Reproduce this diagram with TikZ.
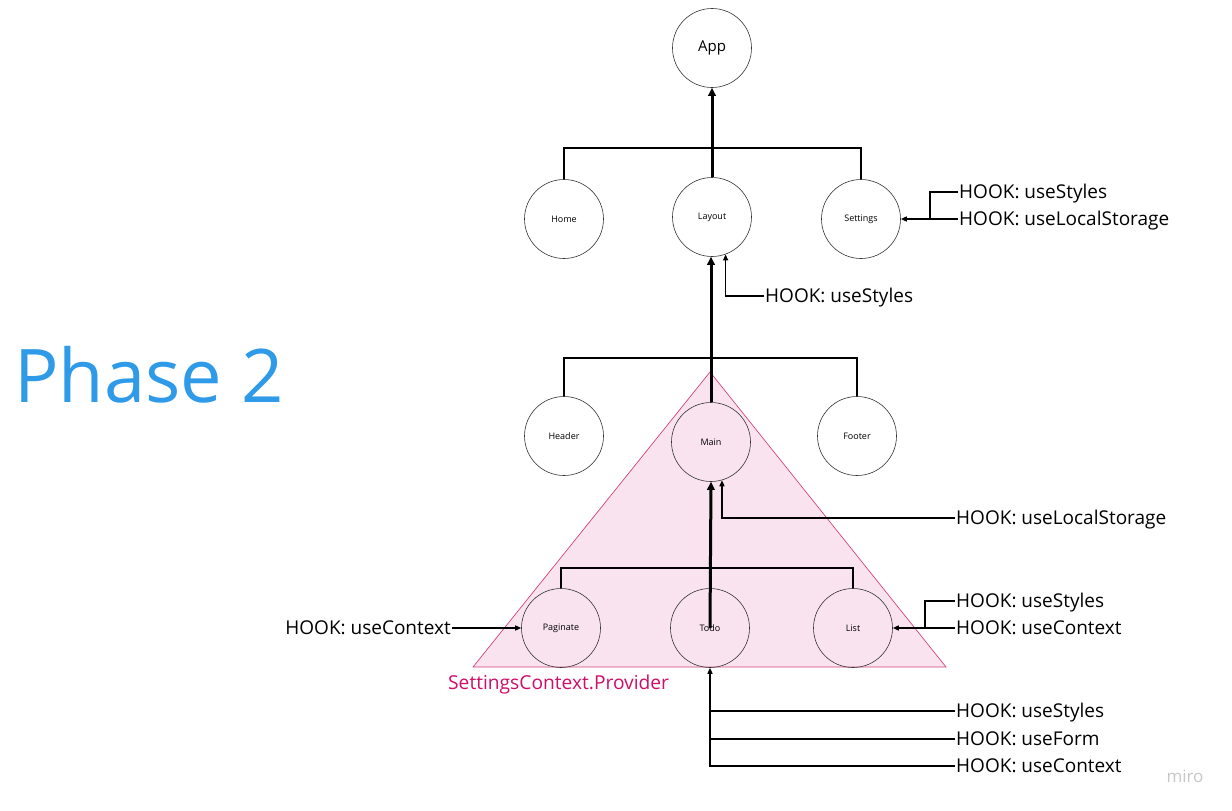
\documentclass[tikz,border=0pt]{standalone}
\usepackage{fontspec}
\setmainfont{Open Sans}
\usetikzlibrary{arrows.meta}
\definecolor{pinkfill}{HTML}{F9E3EE}
\definecolor{pinkline}{HTML}{D4427F}
\definecolor{provtext}{HTML}{CC0F6A}
\definecolor{phaseblue}{HTML}{2F9BE8}
\begin{document}
\begin{tikzpicture}[x=1pt,y=-1pt,
 comp/.style={circle,draw=black!80,line width=0.6pt,minimum size=79pt,inner sep=0pt,font=\fontsize{9}{10}\selectfont},
 tree/.style={line width=2.8pt},
 up/.style={line width=3pt,-{Triangle[length=8pt,width=7.5pt]}},
 hook/.style={line width=1.4pt},
 hooka/.style={line width=1.4pt,-{Triangle[length=6pt,width=5pt]}},
 hk/.style={anchor=west,inner sep=1pt,text height=13.6pt,text depth=0pt,font=\fontsize{19}{20}\selectfont}]
\useasboundingbox (0,0) rectangle (1232,811);
\fill[white] (0,0) rectangle (1232,811);
% provider triangle
\filldraw[fill=pinkfill,draw=pinkline,line width=0.7pt] (710,372) -- (946,667) -- (473,667) -- cycle;
% components
\node[comp,font=\fontsize{15}{16}\selectfont] (App) at (712,48) {App};
\node[comp] (Home) at (564,219) {Home};
\node[comp] (Layout) at (712,217) {Layout};
\node[comp] (Settings) at (861,219) {Settings};
\node[comp] (Header) at (564,436) {Header};
\node[comp] (Main) at (711,442) {Main};
\node[comp] (Footer) at (857,436) {Footer};
\node[comp] (Paginate) at (561,628) {Paginate};
\node[comp] (Todo) at (710,628) {Todo};
\node[comp] (List) at (853,628) {List};
% tree connectors
\coordinate (b1) at (712,148);
\draw[tree] (Home.north) |- (b1) -| (Settings.north);
\draw[up] (Layout.north) -- (App.south);
\coordinate (b2) at (711,358);
\draw[tree] (Header.north) |- (b2) -| (Footer.north);
\draw[up] (Main.north) -- (Main.north |- Layout.south);
\coordinate (b3) at (710,568);
\draw[tree] (Paginate.north) |- (b3) -| (List.north);
\draw[up] (Todo.center) -- (Main.south);
% hooks: Settings
\node[hk] (s1) at (958,192) {HOOK: useStyles};
\node[hk] (s2) at (958,219) {HOOK: useLocalStorage};
\coordinate (sj) at (930,219);
\draw[hooka] (s2.west) -- (Settings.east);
\draw[hook] (s1.west) -| (sj);
% hooks: Layout
\node[hk] (hL) at (764,296) {HOOK: useStyles};
\draw[hooka] (hL.west) -| (Layout.-70);
% hooks: Main
\node[hk] (m1) at (955,518) {HOOK: useLocalStorage};
\draw[hooka] (m1.west) -| (Main.-74);
% hooks: List
\node[hk] (l1) at (955,601) {HOOK: useStyles};
\node[hk] (l2) at (955,628) {HOOK: useContext};
\coordinate (lj) at (925,628);
\draw[hooka] (l2.west) -- (List.east);
\draw[hook] (l1.west) -| (lj);
% hooks: Paginate
\node[hk,anchor=east] (p1) at (452,628) {HOOK: useContext};
\draw[hooka] (p1.east) -- (Paginate.west);
% hooks: Todo
\node[hk] (t1) at (955,711) {HOOK: useStyles};
\node[hk] (t2) at (955,739) {HOOK: useForm};
\node[hk] (t3) at (955,766) {HOOK: useContext};
\draw[hooka] (t3.west) -| (Todo.south);
\draw[hook] (t1.west) -- (t1.west -| Todo.south);
\draw[hook] (t2.west) -- (t2.west -| Todo.south);
% labels
\node[anchor=west,inner sep=0pt,text=provtext,font=\fontsize{19.2}{21}\selectfont] (prov) at (448,685) {SettingsContext.Provider};
\node[anchor=base west,inner sep=0pt,text=phaseblue,font=\fontsize{74}{74}\selectfont] (phase) at (14,402) {Phase 2};
\node[text=black!22,font=\fontsize{17}{17}\selectfont] (miro) at (1185,776) {miro};
\end{tikzpicture}
\end{document}
